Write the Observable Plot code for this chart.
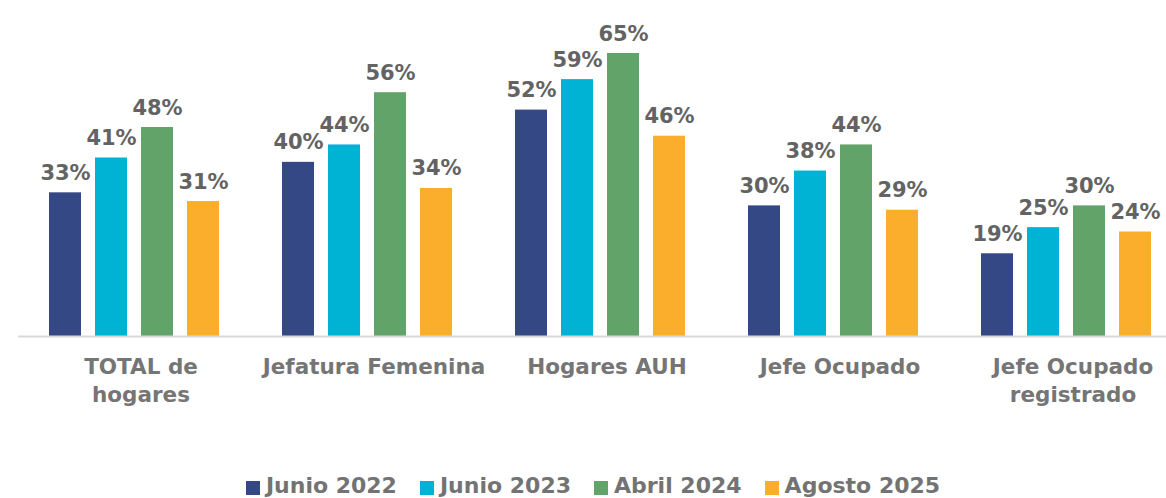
<!DOCTYPE html>
<html><head><meta charset="utf-8">
<script src="https://cdn.jsdelivr.net/npm/d3@7"></script>
<script src="https://cdn.jsdelivr.net/npm/@observablehq/plot@0.6"></script>
<style>
body{margin:0;background:#fff;font-family:"DejaVu Sans",sans-serif;}
#legend{display:flex;justify-content:center;gap:23px;margin-top:54px;font-weight:700;font-size:22px;line-height:24px;color:#737373;margin-left:20px}
#legend span.item{display:flex;align-items:center;gap:6px}
#legend i{display:inline-block;width:14px;height:14px;margin-top:3px}
</style></head><body>
<div id="chart"></div>
<div id="legend"></div>
<script>
const categories = ["TOTAL de\nhogares","Jefatura Femenina","Hogares AUH","Jefe Ocupado","Jefe Ocupado\nregistrado"];
const series = ["Junio 2022","Junio 2023","Abril 2024","Agosto 2025"];
const colors = ["#354886","#00b2d3","#62a36a","#fbae2b"];
const values = {
  "Junio 2022": [33,40,52,30,19],
  "Junio 2023": [41,44,59,38,25],
  "Abril 2024": [48,56,65,44,30],
  "Agosto 2025": [31,34,46,29,24]
};
const data = [];
categories.forEach((c,i)=>series.forEach(s=>data.push({cat:c, s, v: values[s][i]})));

const chart = Plot.plot({
  width: 1166, height: 420,
  marginTop: 53, marginBottom: 84, marginLeft: 0, marginRight: 0,
  style:{fontFamily:"DejaVu Sans, sans-serif", background:"#fff"},
  fx:{domain: categories, range:[17.5,1182.5], padding:0, axis:null},
  x:{domain: series, paddingInner:0.298, paddingOuter:0.628, axis:null},
  y:{domain:[0,65], axis:null},
  color:{domain: series, range: colors},
  marks:[
    Plot.barY(data,{fx:"cat", x:"s", y:"v", fill:"s"}),
    Plot.text(data,{fx:"cat", x:"s", y:"v", text:d=>d.v+"%", lineAnchor:"bottom", dy:-13, fontSize:21, fontWeight:700, fill:"#636363"}),
    Plot.ruleY([0],{stroke:"#d9d9d9", strokeWidth:2}),
    Plot.text(categories,{fx:d=>d, text:d=>d, frameAnchor:"bottom", lineAnchor:"top", dy:18, dx:6, fontSize:21.5, fontWeight:700, fill:"#757575", lineHeight:1.3})
  ]
});
document.getElementById("chart").appendChild(chart);
const lg = document.getElementById("legend");
series.forEach((s,i)=>{
  const it=document.createElement("span"); it.className="item";
  it.innerHTML=`<i style="background:${colors[i]}"></i>${s}`;
  lg.appendChild(it);
});
</script>
</body></html>
